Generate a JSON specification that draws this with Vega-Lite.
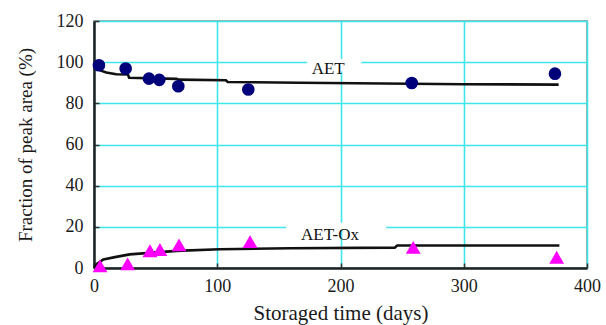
{
  "$schema": "https://vega.github.io/schema/vega-lite/v6.json",
  "width": 493,
  "height": 247,
  "autosize": "none",
  "padding": {"left": 94, "top": 21, "right": 19, "bottom": 57},
  "background": "white",
  "config": {
    "font": "Liberation Serif",
    "view": {"stroke": "#a8a8a8", "strokeWidth": 2},
    "axis": {
      "domainColor": "#222222",
      "domainWidth": 2.5,
      "gridColor": "#3ee6ec",
      "gridWidth": 1.6,
      "ticks": true,
      "tickSize": -5,
      "tickColor": "#333333",
      "tickWidth": 1.5,
      "labelFlush": false,
      "labelFont": "Liberation Serif",
      "labelFontSize": 18,
      "labelColor": "#1a1a1a",
      "titleFont": "Liberation Serif",
      "titleFontWeight": "normal",
      "titleColor": "#1a1a1a"
    }
  },
  "datasets": {
    "points": [
      {"series": "AET", "day": 4, "value": 98.5},
      {"series": "AET", "day": 25.7, "value": 96.9},
      {"series": "AET", "day": 44.6, "value": 92.0},
      {"series": "AET", "day": 53, "value": 91.4},
      {"series": "AET", "day": 68.4, "value": 88.3},
      {"series": "AET", "day": 125.2, "value": 86.7},
      {"series": "AET", "day": 257.8, "value": 89.9},
      {"series": "AET", "day": 374, "value": 94.4},
      {"series": "AET-Ox", "day": 4.9, "value": 1.0},
      {"series": "AET-Ox", "day": 27.3, "value": 2.0},
      {"series": "AET-Ox", "day": 45.4, "value": 8.4},
      {"series": "AET-Ox", "day": 53.5, "value": 9.0},
      {"series": "AET-Ox", "day": 69, "value": 11.2},
      {"series": "AET-Ox", "day": 126.6, "value": 12.8},
      {"series": "AET-Ox", "day": 259, "value": 10.0},
      {"series": "AET-Ox", "day": 375.4, "value": 5.2}
    ],
    "fit": [
      {"series": "AET", "day": 0, "value": 98.0},
      {"series": "AET", "day": 5, "value": 96.0},
      {"series": "AET", "day": 10, "value": 95.0},
      {"series": "AET", "day": 18, "value": 94.1},
      {"series": "AET", "day": 27.5, "value": 94.0},
      {"series": "AET", "day": 28.5, "value": 92.4},
      {"series": "AET", "day": 67, "value": 91.9},
      {"series": "AET", "day": 68.5, "value": 91.5},
      {"series": "AET", "day": 107, "value": 91.2},
      {"series": "AET", "day": 108.5, "value": 90.4},
      {"series": "AET", "day": 167, "value": 90.0},
      {"series": "AET", "day": 257, "value": 89.5},
      {"series": "AET", "day": 300, "value": 89.3},
      {"series": "AET", "day": 377, "value": 89.1},
      {"series": "AET-Ox", "day": 0, "value": 0.2},
      {"series": "AET-Ox", "day": 2.2, "value": 2.0},
      {"series": "AET-Ox", "day": 7.6, "value": 4.2},
      {"series": "AET-Ox", "day": 18, "value": 5.4},
      {"series": "AET-Ox", "day": 29, "value": 6.6},
      {"series": "AET-Ox", "day": 67, "value": 8.3},
      {"series": "AET-Ox", "day": 102, "value": 9.1},
      {"series": "AET-Ox", "day": 159, "value": 9.6},
      {"series": "AET-Ox", "day": 244, "value": 9.9},
      {"series": "AET-Ox", "day": 246, "value": 10.9},
      {"series": "AET-Ox", "day": 377.6, "value": 10.9}
    ],
    "labels": [
      {"label": "AET", "day": 190, "value": 96.7},
      {"label": "AET-Ox", "day": 191.5, "value": 15.8}
    ],
    "boxes": [
      {"day": 173, "day2": 217, "value": 95.5, "value2": 101.5},
      {"day": 156, "day2": 237, "value": 18.5, "value2": 22}
    ]
  },
  "layer": [
    {
      "data": {"name": "boxes"},
      "mark": {"type": "rect", "fill": "white"},
      "encoding": {
        "x": {
          "field": "day", "type": "quantitative",
          "scale": {"domain": [0, 400], "nice": false},
          "axis": {"values": [0, 100, 200, 300, 400], "title": "Storaged time (days)", "titleFontSize": 21, "labelPadding": 14, "titlePadding": 7}
        },
        "x2": {"field": "day2"},
        "y": {
          "field": "value", "type": "quantitative",
          "scale": {"domain": [0, 120], "nice": false},
          "axis": {"values": [0, 20, 40, 60, 80, 100, 120], "title": "Fraction of peak area (%)", "titleFontSize": 19, "labelPadding": 16, "titlePadding": 21}
        },
        "y2": {"field": "value2"}
      }
    },
    {
      "data": {"name": "fit"},
      "mark": {"type": "line", "color": "#111111", "strokeWidth": 2.6},
      "encoding": {
        "x": {"field": "day", "type": "quantitative"},
        "y": {"field": "value", "type": "quantitative"},
        "detail": {"field": "series"}
      }
    },
    {
      "data": {"name": "points"},
      "mark": {"type": "point", "filled": true, "opacity": 1},
      "encoding": {
        "x": {"field": "day", "type": "quantitative"},
        "y": {"field": "value", "type": "quantitative"},
        "shape": {"field": "series", "type": "nominal", "scale": {"domain": ["AET", "AET-Ox"], "range": ["circle", "triangle-up"]}, "legend": null},
        "color": {"field": "series", "type": "nominal", "scale": {"domain": ["AET", "AET-Ox"], "range": ["#00007a", "#ff00ff"]}, "legend": null},
        "size": {"field": "series", "type": "nominal", "scale": {"domain": ["AET", "AET-Ox"], "range": [160, 220]}, "legend": null}
      }
    },
    {
      "data": {"name": "labels"},
      "mark": {"type": "text", "font": "Liberation Serif", "fontSize": 17, "color": "#111111", "baseline": "middle", "align": "center"},
      "encoding": {
        "x": {"field": "day", "type": "quantitative"},
        "y": {"field": "value", "type": "quantitative"},
        "text": {"field": "label"}
      }
    }
  ]
}
